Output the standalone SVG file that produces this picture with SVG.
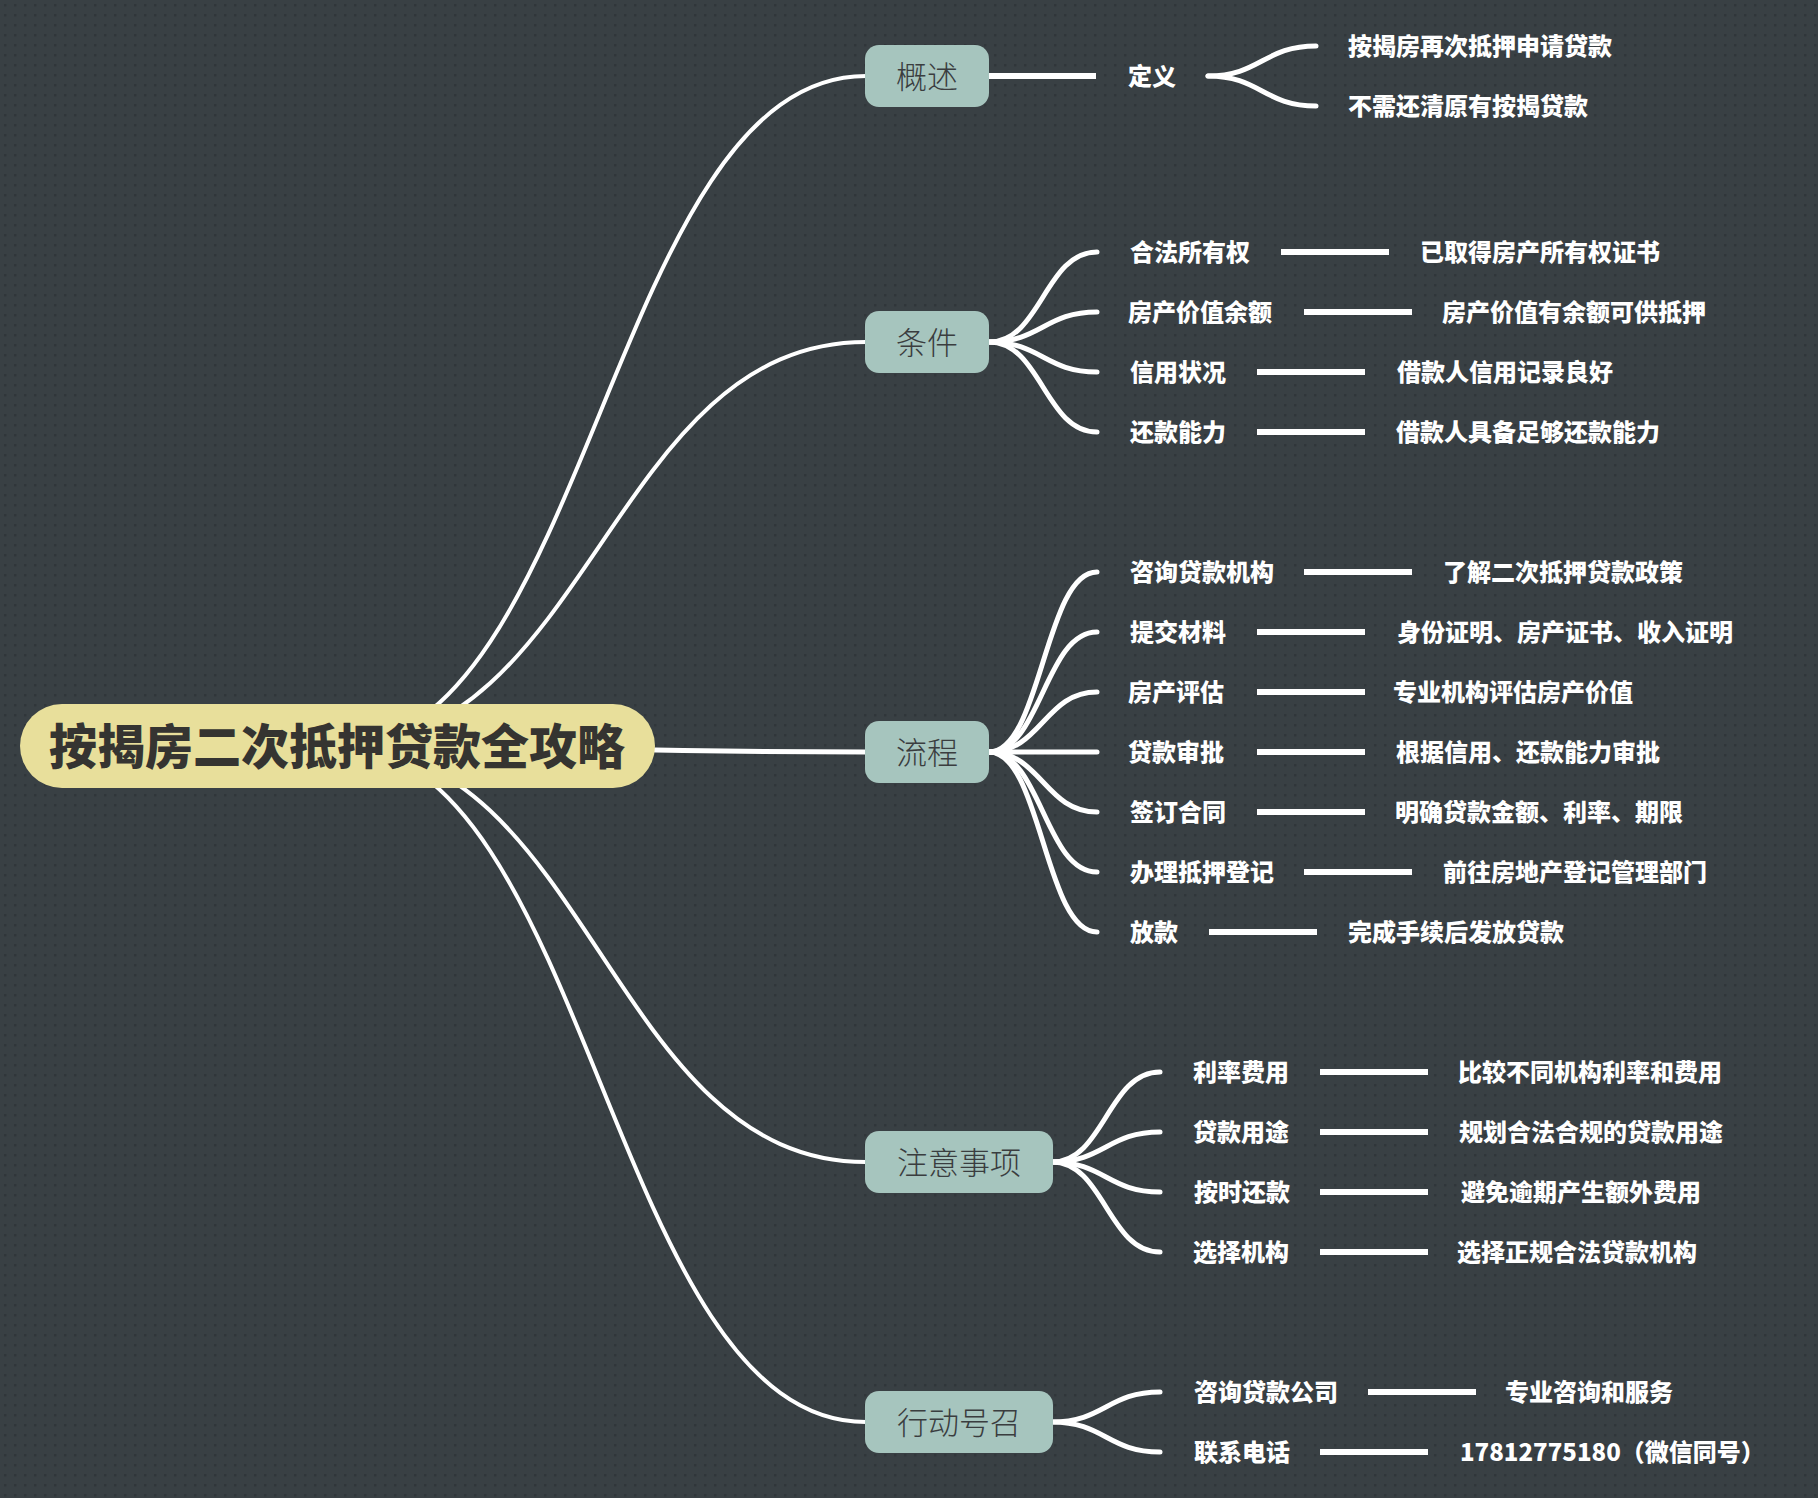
<svg xmlns="http://www.w3.org/2000/svg" width="1818" height="1498" viewBox="0 0 1818 1498">
<style>
text{font-family:"Noto Sans CJK SC","Noto Sans",sans-serif}
.c{fill:none;stroke:#ffffff;stroke-linecap:round}
.m{stroke-width:4}
.s{stroke-width:5}
.d{stroke-width:6;stroke-linecap:butt}
.root rect{fill:#e8df9b}
.root text{font-size:48px;font-weight:900;fill:#353431;text-anchor:middle}
.main rect{fill:#a6c5be}
.main text{font-size:31px;font-weight:300;fill:#3a3d3f;text-anchor:middle}
.leaf text{font-size:24px;font-weight:900;fill:#ffffff}
</style>
<defs>
<pattern id="dots" width="10" height="10" patternUnits="userSpaceOnUse">
<rect width="10" height="10" fill="#394044"/>
<rect x="4" y="4" width="2.5" height="2.5" fill="#30363a"/>
</pattern>
</defs>
<rect width="1818" height="1498" fill="url(#dots)"/>
<g id="connectors">
<path class="c m" d="M337,746 C590,746 611,76 866,76"/>
<path class="c m" d="M337,746 C590,746 611,342 866,342"/>
<path class="c m" style="stroke-width:5" d="M337,746 C590,746 611,752 866,752"/>
<path class="c m" d="M337,746 C590,746 611,1162 866,1162"/>
<path class="c m" d="M337,746 C590,746 611,1422 866,1422"/>
<line class="c d" x1="989" y1="76" x2="1096" y2="76"/>
<path class="c s" d="M1208,76 C1260,76 1264,46 1316,46"/>
<path class="c s" d="M1208,76 C1260,76 1264,106 1316,106"/>
<path class="c s" d="M989,342 C1041,342 1045,252 1097,252"/>
<path class="c s" d="M989,342 C1041,342 1045,312 1097,312"/>
<path class="c s" d="M989,342 C1041,342 1045,372 1097,372"/>
<path class="c s" d="M989,342 C1041,342 1045,432 1097,432"/>
<path class="c s" d="M989,752 C1041,752 1045,572 1097,572"/>
<path class="c s" d="M989,752 C1041,752 1045,632 1097,632"/>
<path class="c s" d="M989,752 C1041,752 1045,692 1097,692"/>
<path class="c s" d="M989,752 L1097,752"/>
<path class="c s" d="M989,752 C1041,752 1045,812 1097,812"/>
<path class="c s" d="M989,752 C1041,752 1045,872 1097,872"/>
<path class="c s" d="M989,752 C1041,752 1045,932 1097,932"/>
<path class="c s" d="M1052,1162 C1104,1162 1108,1072 1160,1072"/>
<path class="c s" d="M1052,1162 C1104,1162 1108,1132 1160,1132"/>
<path class="c s" d="M1052,1162 C1104,1162 1108,1192 1160,1192"/>
<path class="c s" d="M1052,1162 C1104,1162 1108,1252 1160,1252"/>
<path class="c s" d="M1052,1422 C1104,1422 1108,1392 1160,1392"/>
<path class="c s" d="M1052,1422 C1104,1422 1108,1452 1160,1452"/>
<line class="c d" x1="1281" y1="252" x2="1389" y2="252"/>
<line class="c d" x1="1304" y1="312" x2="1412" y2="312"/>
<line class="c d" x1="1257" y1="372" x2="1365" y2="372"/>
<line class="c d" x1="1257" y1="432" x2="1365" y2="432"/>
<line class="c d" x1="1304" y1="572" x2="1412" y2="572"/>
<line class="c d" x1="1257" y1="632" x2="1365" y2="632"/>
<line class="c d" x1="1257" y1="692" x2="1365" y2="692"/>
<line class="c d" x1="1257" y1="752" x2="1365" y2="752"/>
<line class="c d" x1="1257" y1="812" x2="1365" y2="812"/>
<line class="c d" x1="1304" y1="872" x2="1412" y2="872"/>
<line class="c d" x1="1209" y1="932" x2="1317" y2="932"/>
<line class="c d" x1="1320" y1="1072" x2="1428" y2="1072"/>
<line class="c d" x1="1320" y1="1132" x2="1428" y2="1132"/>
<line class="c d" x1="1320" y1="1192" x2="1428" y2="1192"/>
<line class="c d" x1="1320" y1="1252" x2="1428" y2="1252"/>
<line class="c d" x1="1368" y1="1392" x2="1476" y2="1392"/>
<line class="c d" x1="1320" y1="1452" x2="1428" y2="1452"/>
</g>
<g id="root" class="root"><rect x="20" y="704" width="635" height="84" rx="42"/><text x="337" y="764">按揭房二次抵押贷款全攻略</text></g>
<g id="n-gaishu" class="main"><rect x="865" y="45" width="124" height="62" rx="14"/><text x="927" y="88">概述</text></g>
<g id="n-tiaojian" class="main"><rect x="865" y="311" width="124" height="62" rx="14"/><text x="927" y="354">条件</text></g>
<g id="n-liucheng" class="main"><rect x="865" y="721" width="124" height="62" rx="14"/><text x="927" y="764">流程</text></g>
<g id="n-zhuyi" class="main"><rect x="865" y="1131" width="188" height="62" rx="14"/><text x="959" y="1174">注意事项</text></g>
<g id="n-xingdong" class="main"><rect x="865" y="1391" width="188" height="62" rx="14"/><text x="959" y="1434">行动号召</text></g>
<g id="leaf-dingyi" class="leaf"><text x="1128" y="85">定义</text></g>
<g id="leaf-def1" class="leaf"><text x="1348" y="55">按揭房再次抵押申请贷款</text></g>
<g id="leaf-def2" class="leaf"><text x="1348" y="115">不需还清原有按揭贷款</text></g>
<g id="leaf-c1" class="leaf"><text x="1130" y="261">合法所有权</text><text x="1420" y="261">已取得房产所有权证书</text></g>
<g id="leaf-c2" class="leaf"><text x="1128" y="321">房产价值余额</text><text x="1442" y="321">房产价值有余额可供抵押</text></g>
<g id="leaf-c3" class="leaf"><text x="1130" y="381">信用状况</text><text x="1397" y="381">借款人信用记录良好</text></g>
<g id="leaf-c4" class="leaf"><text x="1130" y="441">还款能力</text><text x="1396" y="441">借款人具备足够还款能力</text></g>
<g id="leaf-p1" class="leaf"><text x="1130" y="581">咨询贷款机构</text><text x="1443" y="581">了解二次抵押贷款政策</text></g>
<g id="leaf-p2" class="leaf"><text x="1130" y="641">提交材料</text><text x="1397" y="641">身份证明、房产证书、收入证明</text></g>
<g id="leaf-p3" class="leaf"><text x="1128" y="701">房产评估</text><text x="1393" y="701">专业机构评估房产价值</text></g>
<g id="leaf-p4" class="leaf"><text x="1128" y="761">贷款审批</text><text x="1396" y="761">根据信用、还款能力审批</text></g>
<g id="leaf-p5" class="leaf"><text x="1130" y="821">签订合同</text><text x="1395" y="821">明确贷款金额、利率、期限</text></g>
<g id="leaf-p6" class="leaf"><text x="1130" y="881">办理抵押登记</text><text x="1443" y="881">前往房地产登记管理部门</text></g>
<g id="leaf-p7" class="leaf"><text x="1130" y="941">放款</text><text x="1348" y="941">完成手续后发放贷款</text></g>
<g id="leaf-z1" class="leaf"><text x="1193" y="1081">利率费用</text><text x="1458" y="1081">比较不同机构利率和费用</text></g>
<g id="leaf-z2" class="leaf"><text x="1193" y="1141">贷款用途</text><text x="1459" y="1141">规划合法合规的贷款用途</text></g>
<g id="leaf-z3" class="leaf"><text x="1194" y="1201">按时还款</text><text x="1461" y="1201">避免逾期产生额外费用</text></g>
<g id="leaf-z4" class="leaf"><text x="1193" y="1261">选择机构</text><text x="1457" y="1261">选择正规合法贷款机构</text></g>
<g id="leaf-x1" class="leaf"><text x="1194" y="1401">咨询贷款公司</text><text x="1505" y="1401">专业咨询和服务</text></g>
<g id="leaf-x2" class="leaf"><text x="1194" y="1461">联系电话</text><text x="1460" y="1461">17812775180（微信同号）</text></g>
</svg>
